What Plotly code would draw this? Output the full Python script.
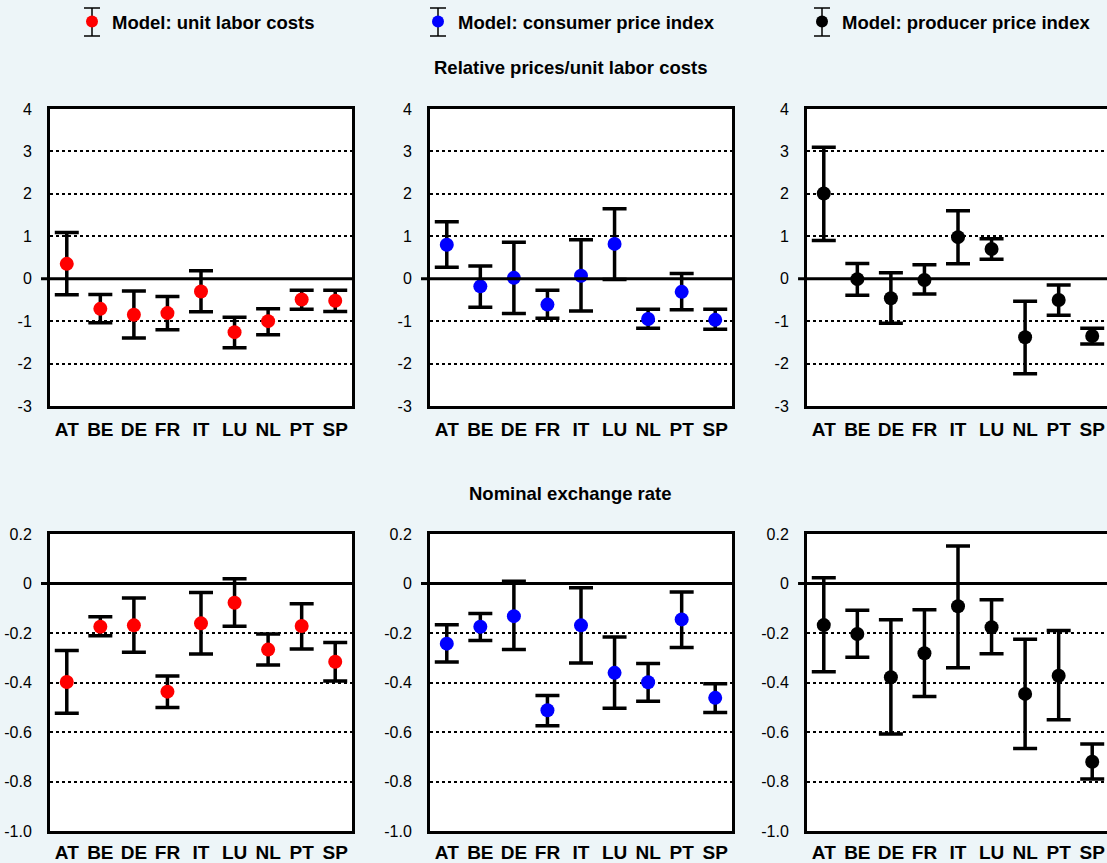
import plotly.graph_objects as go

# ---- data -------------------------------------------------------------
countries = ["AT", "BE", "DE", "FR", "IT", "LU", "NL", "PT", "SP"]

# Relative prices / unit labor costs: point estimate, lower and upper band
rel_ulc = [0.35, -0.71, -0.85, -0.81, -0.30, -1.26, -1.00, -0.49, -0.52]
rel_ulc_lo = [-0.38, -1.04, -1.40, -1.20, -0.78, -1.63, -1.32, -0.72, -0.77]
rel_ulc_hi = [1.09, -0.37, -0.29, -0.42, 0.19, -0.91, -0.71, -0.27, -0.27]

rel_cpi = [0.80, -0.18, 0.02, -0.61, 0.07, 0.82, -0.95, -0.31, -0.97]
rel_cpi_lo = [0.27, -0.67, -0.82, -0.93, -0.76, -0.02, -1.17, -0.73, -1.19]
rel_cpi_hi = [1.34, 0.30, 0.86, -0.27, 0.92, 1.65, -0.72, 0.12, -0.72]

rel_ppi = [2.01, -0.01, -0.46, -0.03, 0.98, 0.70, -1.38, -0.50, -1.35]
rel_ppi_lo = [0.90, -0.39, -1.05, -0.36, 0.35, 0.46, -2.24, -0.86, -1.54]
rel_ppi_hi = [3.10, 0.36, 0.14, 0.33, 1.60, 0.94, -0.53, -0.15, -1.17]

# Nominal exchange rate
ner_ulc = [-0.398, -0.175, -0.169, -0.437, -0.161, -0.078, -0.267, -0.172, -0.316]
ner_ulc_lo = [-0.524, -0.211, -0.278, -0.501, -0.285, -0.173, -0.329, -0.265, -0.394]
ner_ulc_hi = [-0.271, -0.134, -0.059, -0.374, -0.036, 0.019, -0.204, -0.082, -0.238]

ner_cpi = [-0.243, -0.175, -0.132, -0.512, -0.169, -0.361, -0.399, -0.145, -0.462]
ner_cpi_lo = [-0.317, -0.230, -0.267, -0.575, -0.321, -0.504, -0.476, -0.259, -0.521]
ner_cpi_hi = [-0.167, -0.121, 0.009, -0.453, -0.017, -0.216, -0.323, -0.034, -0.405]

ner_ppi = [-0.168, -0.204, -0.379, -0.282, -0.092, -0.177, -0.446, -0.373, -0.720]
ner_ppi_lo = [-0.357, -0.298, -0.608, -0.457, -0.340, -0.284, -0.667, -0.550, -0.790]
ner_ppi_hi = [0.023, -0.108, -0.146, -0.106, 0.152, -0.066, -0.225, -0.190, -0.648]

series_names = ["Model: unit labor costs", "Model: consumer price index",
                "Model: producer price index"]
series_colors = ["#ff0000", "#0000ff", "#000000"]

top_ticks = [-3, -2, -1, 0, 1, 2, 3, 4]
top_ticktext = ["-3", "-2", "-1", "0", "1", "2", "3", "4"]
bot_ticks = [-1.0, -0.8, -0.6, -0.4, -0.2, 0, 0.2]
bot_ticktext = ["-1.0", "-0.8", "-0.6", "-0.4", "-0.2", "0", "0.2"]

panel_titles = ["Relative prices/unit labor costs", "Nominal exchange rate"]

# ---- layout geometry (pixels) -----------------------------------------
W, H = 1107, 863
BG = "#edf5f8"
FONT = "Liberation Sans"
col_px = [(50, 352), (430, 732), (807, 1107)]
row_px = [(109, 406), (534, 831)]


def px_x(p):
    return p / W


def px_y(p):
    return 1 - p / H


fig = go.Figure()

panels = [
    (rel_ulc, rel_ulc_lo, rel_ulc_hi),
    (rel_cpi, rel_cpi_lo, rel_cpi_hi),
    (rel_ppi, rel_ppi_lo, rel_ppi_hi),
    (ner_ulc, ner_ulc_lo, ner_ulc_hi),
    (ner_cpi, ner_cpi_lo, ner_cpi_hi),
    (ner_ppi, ner_ppi_lo, ner_ppi_hi),
]

legend_ids = ["legend", "legend2", "legend3"]

for i, (vals, lo, hi) in enumerate(panels):
    col = i % 3
    row = i // 3
    n = i + 1
    suffix = "" if n == 1 else str(n)
    fig.add_trace(go.Scatter(
        x=countries, y=vals,
        mode="markers",
        marker=dict(color=series_colors[col], size=14, line=dict(width=0)),
        error_y=dict(
            type="data", symmetric=False,
            array=[h - v for h, v in zip(hi, vals)],
            arrayminus=[v - l for v, l in zip(vals, lo)],
            color="black", thickness=3.5, width=12,
        ),
        name=series_names[col],
        showlegend=(row == 0),
        legend=legend_ids[col],
        xaxis="x" + suffix, yaxis="y" + suffix,
        cliponaxis=False,
    ))

    x0, x1 = col_px[col]
    y0, y1 = row_px[row]
    # the right-hand column keeps the same category spacing but runs off the page
    span = 9 * (x1 - x0) / 302.0
    xaxis = dict(
        domain=[px_x(x0), px_x(x1)],
        anchor="y" + suffix,
        type="category",
        range=[-0.5, -0.5 + span],
        showgrid=False, zeroline=False,
        showline=True, mirror=True, linecolor="black", linewidth=3,
        ticks="", ticklabelstandoff=(4 if row == 0 else 2), automargin=False,
        tickfont=dict(family=FONT, size=19, color="black", weight="bold"),
    )
    if row == 0:
        yrange, tv, tt = [-3, 4], top_ticks, top_ticktext
    else:
        yrange, tv, tt = [-1.0, 0.2], bot_ticks, bot_ticktext
    yaxis = dict(
        domain=[px_y(y1), px_y(y0)],
        anchor="x" + suffix,
        range=yrange,
        tickvals=tv, ticktext=tt,
        showgrid=True, gridcolor="black", gridwidth=1.5, griddash="dot",
        zeroline=False,
        showline=True, mirror=(col < 2), linecolor="black", linewidth=3,
        ticks="", ticklabelstandoff=12, automargin=False,
        tickfont=dict(family=FONT, size=16, color="black"),
    )
    fig.update_layout({"xaxis" + suffix: xaxis, "yaxis" + suffix: yaxis})

    # zero reference line, reaching slightly left of the frame
    fig.add_shape(
        type="line", xref="x" + suffix + " domain", yref="y" + suffix,
        x0=-9 / 302, x1=1.0, y0=0, y1=0,
        line=dict(color="black", width=3), layer="above",
    )

# panel-row headings
for title, ypx in zip(panel_titles, [67, 493]):
    fig.add_annotation(
        text=title, xref="paper", yref="paper",
        x=px_x(570), y=px_y(ypx), xanchor="center", yanchor="middle",
        showarrow=False,
        font=dict(family=FONT, size=18.5, color="black", weight="bold"),
    )

# legends, one per series, laid out across the top
legend_marker_px = [92, 438, 822]
for lid, mx in zip(legend_ids, legend_marker_px):
    fig.update_layout({lid: dict(
        x=px_x(mx - 20), y=px_y(22), xanchor="left", yanchor="middle",
        bgcolor="rgba(0,0,0,0)", borderwidth=0, itemsizing="constant",
        font=dict(family=FONT, size=18.5, color="black", weight="bold"),
        orientation="h",
    )})
    # error-bar glyph behind each legend marker
    fig.add_shape(type="line", xref="paper", yref="paper",
                  x0=px_x(mx), x1=px_x(mx), y0=px_y(8), y1=px_y(36),
                  line=dict(color="black", width=1.5), layer="below")
    for yy in (8, 36):
        fig.add_shape(type="line", xref="paper", yref="paper",
                      x0=px_x(mx - 8), x1=px_x(mx + 8), y0=px_y(yy), y1=px_y(yy),
                      line=dict(color="black", width=1.5), layer="below")

fig.update_layout(
    width=W, height=H,
    margin=dict(l=0, r=0, t=0, b=0, autoexpand=False),
    paper_bgcolor=BG, plot_bgcolor="white",
    font=dict(family=FONT, color="black"),
)

fig.write_html("out.html")
